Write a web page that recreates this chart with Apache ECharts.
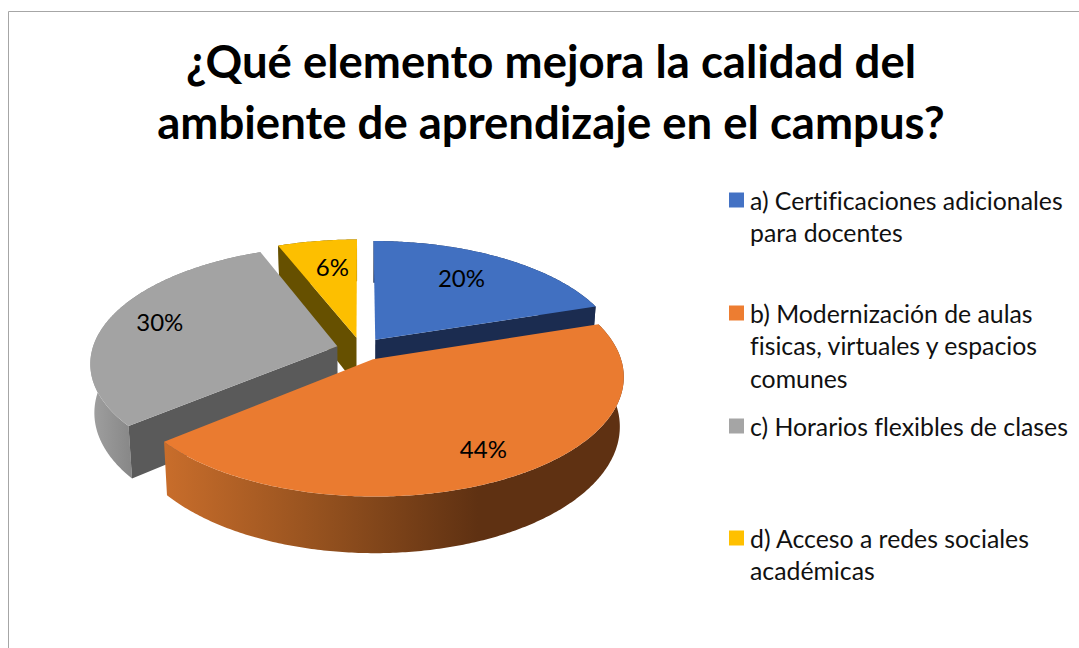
<!DOCTYPE html>
<html><head><meta charset="utf-8">
<style>html,body{margin:0;padding:0;background:#fff}#c{width:1079px;height:648px}
text{font-variant-ligatures:none}</style>
<script src="https://cdn.jsdelivr.net/npm/echarts@6/dist/echarts.min.js"></script>
</head><body><div id="c"></div>
<script>
// ---- data ----
const titleLines = ['¿Qué elemento mejora la calidad del', 'ambiente de aprendizaje en el campus?'];
const categories = ['a) Certificaciones adicionales para docentes',
  'b) Modernización de aulas fisicas, virtuales y espacios comunes',
  'c) Horarios flexibles de clases',
  'd) Acceso a redes sociales académicas'];
const legendLines = [['a) Certificaciones adicionales', 'para docentes'],
  ['b) Modernización de aulas', 'fisicas, virtuales y espacios', 'comunes'],
  ['c) Horarios flexibles de clases'],
  ['d) Acceso a redes sociales', 'académicas']];
const values = [20, 44, 30, 6];

// ---- style ----
const FONT = 'Lato, "Open Sans", sans-serif';
const topColors = ['#4170c1', '#ea7b30', '#a3a3a3', '#fdbf00'];
const legendColors = ['#4472c4', '#ed7d31', '#a5a5a5', '#ffc000'];
const radialColors = ['#1b2c50', '#5f3112', '#5a5a5a', '#665000'];
const drawOrder = [3, 4, 2, 1];
const labelRadius = [0.717, 0.79, 0.784, 0.71];
const labelAngleDeg = [33, 149.8, 286.3, 351];
const legendFirstLineY = [200, 313, 426, 538];

// ---- projection of the tilted, exploded disc ----
const GEO = {cx: 361, cy: 349, A: 245, B: 115, k: 0.14, e: 0.1, D: 48, taper: 0.015};
function project(u, v, z, shift) {
  const U = u + GEO.e * shift[0], V = v + GEO.e * shift[1], w = 1 + GEO.k * V;
  return [GEO.cx + GEO.A * U / w * (1 - GEO.taper * z), GEO.cy - GEO.B * V / w + z * GEO.D / w];
}
const total = values.reduce((a, b) => a + b, 0);
const dir = t => [Math.sin(t), Math.cos(t)];
function range(i) {
  const before = values.slice(0, i).reduce((a, b) => a + b, 0);
  return [before / total * 2 * Math.PI, (before + values[i]) / total * 2 * Math.PI];
}
function arc(a0, a1, z, shift) {
  const n = Math.max(2, Math.ceil((a1 - a0) * 90)), pts = [];
  for (let j = 0; j <= n; j++) {
    const d = dir(a0 + (a1 - a0) * j / n);
    pts.push(project(d[0], d[1], z, shift));
  }
  return pts;
}
function outerFill(i) {
  if (i === 1) return new echarts.graphic.LinearGradient(165, 0, 625, 0, [
    {offset: 0, color: '#c86d2b'}, {offset: 0.33, color: '#96521f'},
    {offset: 0.68, color: '#5f3112'}, {offset: 1, color: '#5f3112'}], true);
  if (i === 2) return new echarts.graphic.LinearGradient(91, 0, 135, 0, [
    {offset: 0, color: '#a0a0a0'}, {offset: 1, color: '#858585'}], true);
  return radialColors[i];
}
function renderSlice(params, api) {
  const i = params.seriesIndex, r = range(i), mid = (r[0] + r[1]) / 2, shift = dir(mid);
  const poly = (points, fill) => ({type: 'polygon', shape: {points}, style: {fill}});
  const radial = t => {
    const d = dir(t);
    return poly([project(0, 0, 0, shift), project(d[0], d[1], 0, shift),
                 project(d[0], d[1], 1, shift), project(0, 0, 1, shift)], radialColors[i]);
  };
  const top = arc(r[0], r[1], 0, shift), bottom = arc(r[0], r[1], 1, shift).reverse();
  const apex = project(0, 0, 0, shift);
  const m = dir(labelAngleDeg[i] * Math.PI / 180), lr = labelRadius[i];
  const lp = project(m[0] * lr, m[1] * lr, 0, shift);
  const children = [poly(top.concat(bottom), outerFill(i))];
  // a cut face shows only when it faces the viewer
  if (Math.sin(r[0]) < -1e-6) children.push(radial(r[0]));
  if (Math.sin(r[1]) > 1e-6) children.push(radial(r[1]));
  children.push(poly([apex].concat(top), topColors[i]));
  children.push({type: 'text', style: {x: lp[0], y: lp[1], text: api.value(0) + '%', fill: '#000',
      font: '24px ' + FONT, textAlign: 'center', textVerticalAlign: 'middle'}});
  return {type: 'group', children};
}

const LINE_H = 32.5;
const chart = echarts.init(document.getElementById('c'), null, {renderer: 'svg'});
chart.setOption({
  animation: false,
  backgroundColor: '#fff',
  title: {
    text: titleLines.join('\n'), left: 546, top: 24.5, textAlign: 'center',
    textStyle: {fontFamily: FONT, fontSize: 45.5, fontWeight: 'bold', color: '#000', lineHeight: 61}
  },
  legend: categories.map((name, i) => {
    const n = legendLines[i].length, rows = 2 * n - 1;
    return {
      left: 729, top: legendFirstLineY[i] - rows * LINE_H / 2, padding: 0,
      orient: 'vertical', itemWidth: 15, itemHeight: 15, selectedMode: false,
      data: [{name, icon: 'rect', itemStyle: {color: legendColors[i]}}],
      formatter: () => '\n'.repeat(n - 1) + legendLines[i].join('\n'),
      textStyle: {fontFamily: FONT, fontSize: 24.8, color: '#111', lineHeight: LINE_H, padding: [0, 0, 0, 1]}
    };
  }),
  series: categories.map((name, i) => ({
    type: 'custom', name, coordinateSystem: 'none', z: drawOrder[i],
    itemStyle: {color: legendColors[i]},
    data: [[values[i]]], renderItem: renderSlice, silent: true
  })),
  graphic: [{
    type: 'polyline', silent: true,
    shape: {points: [[8.5, 648], [8.5, 11.5], [1079, 11.5]]},
    style: {stroke: '#a6a6a6', lineWidth: 1, fill: null}
  }]
});
</script></body></html>
